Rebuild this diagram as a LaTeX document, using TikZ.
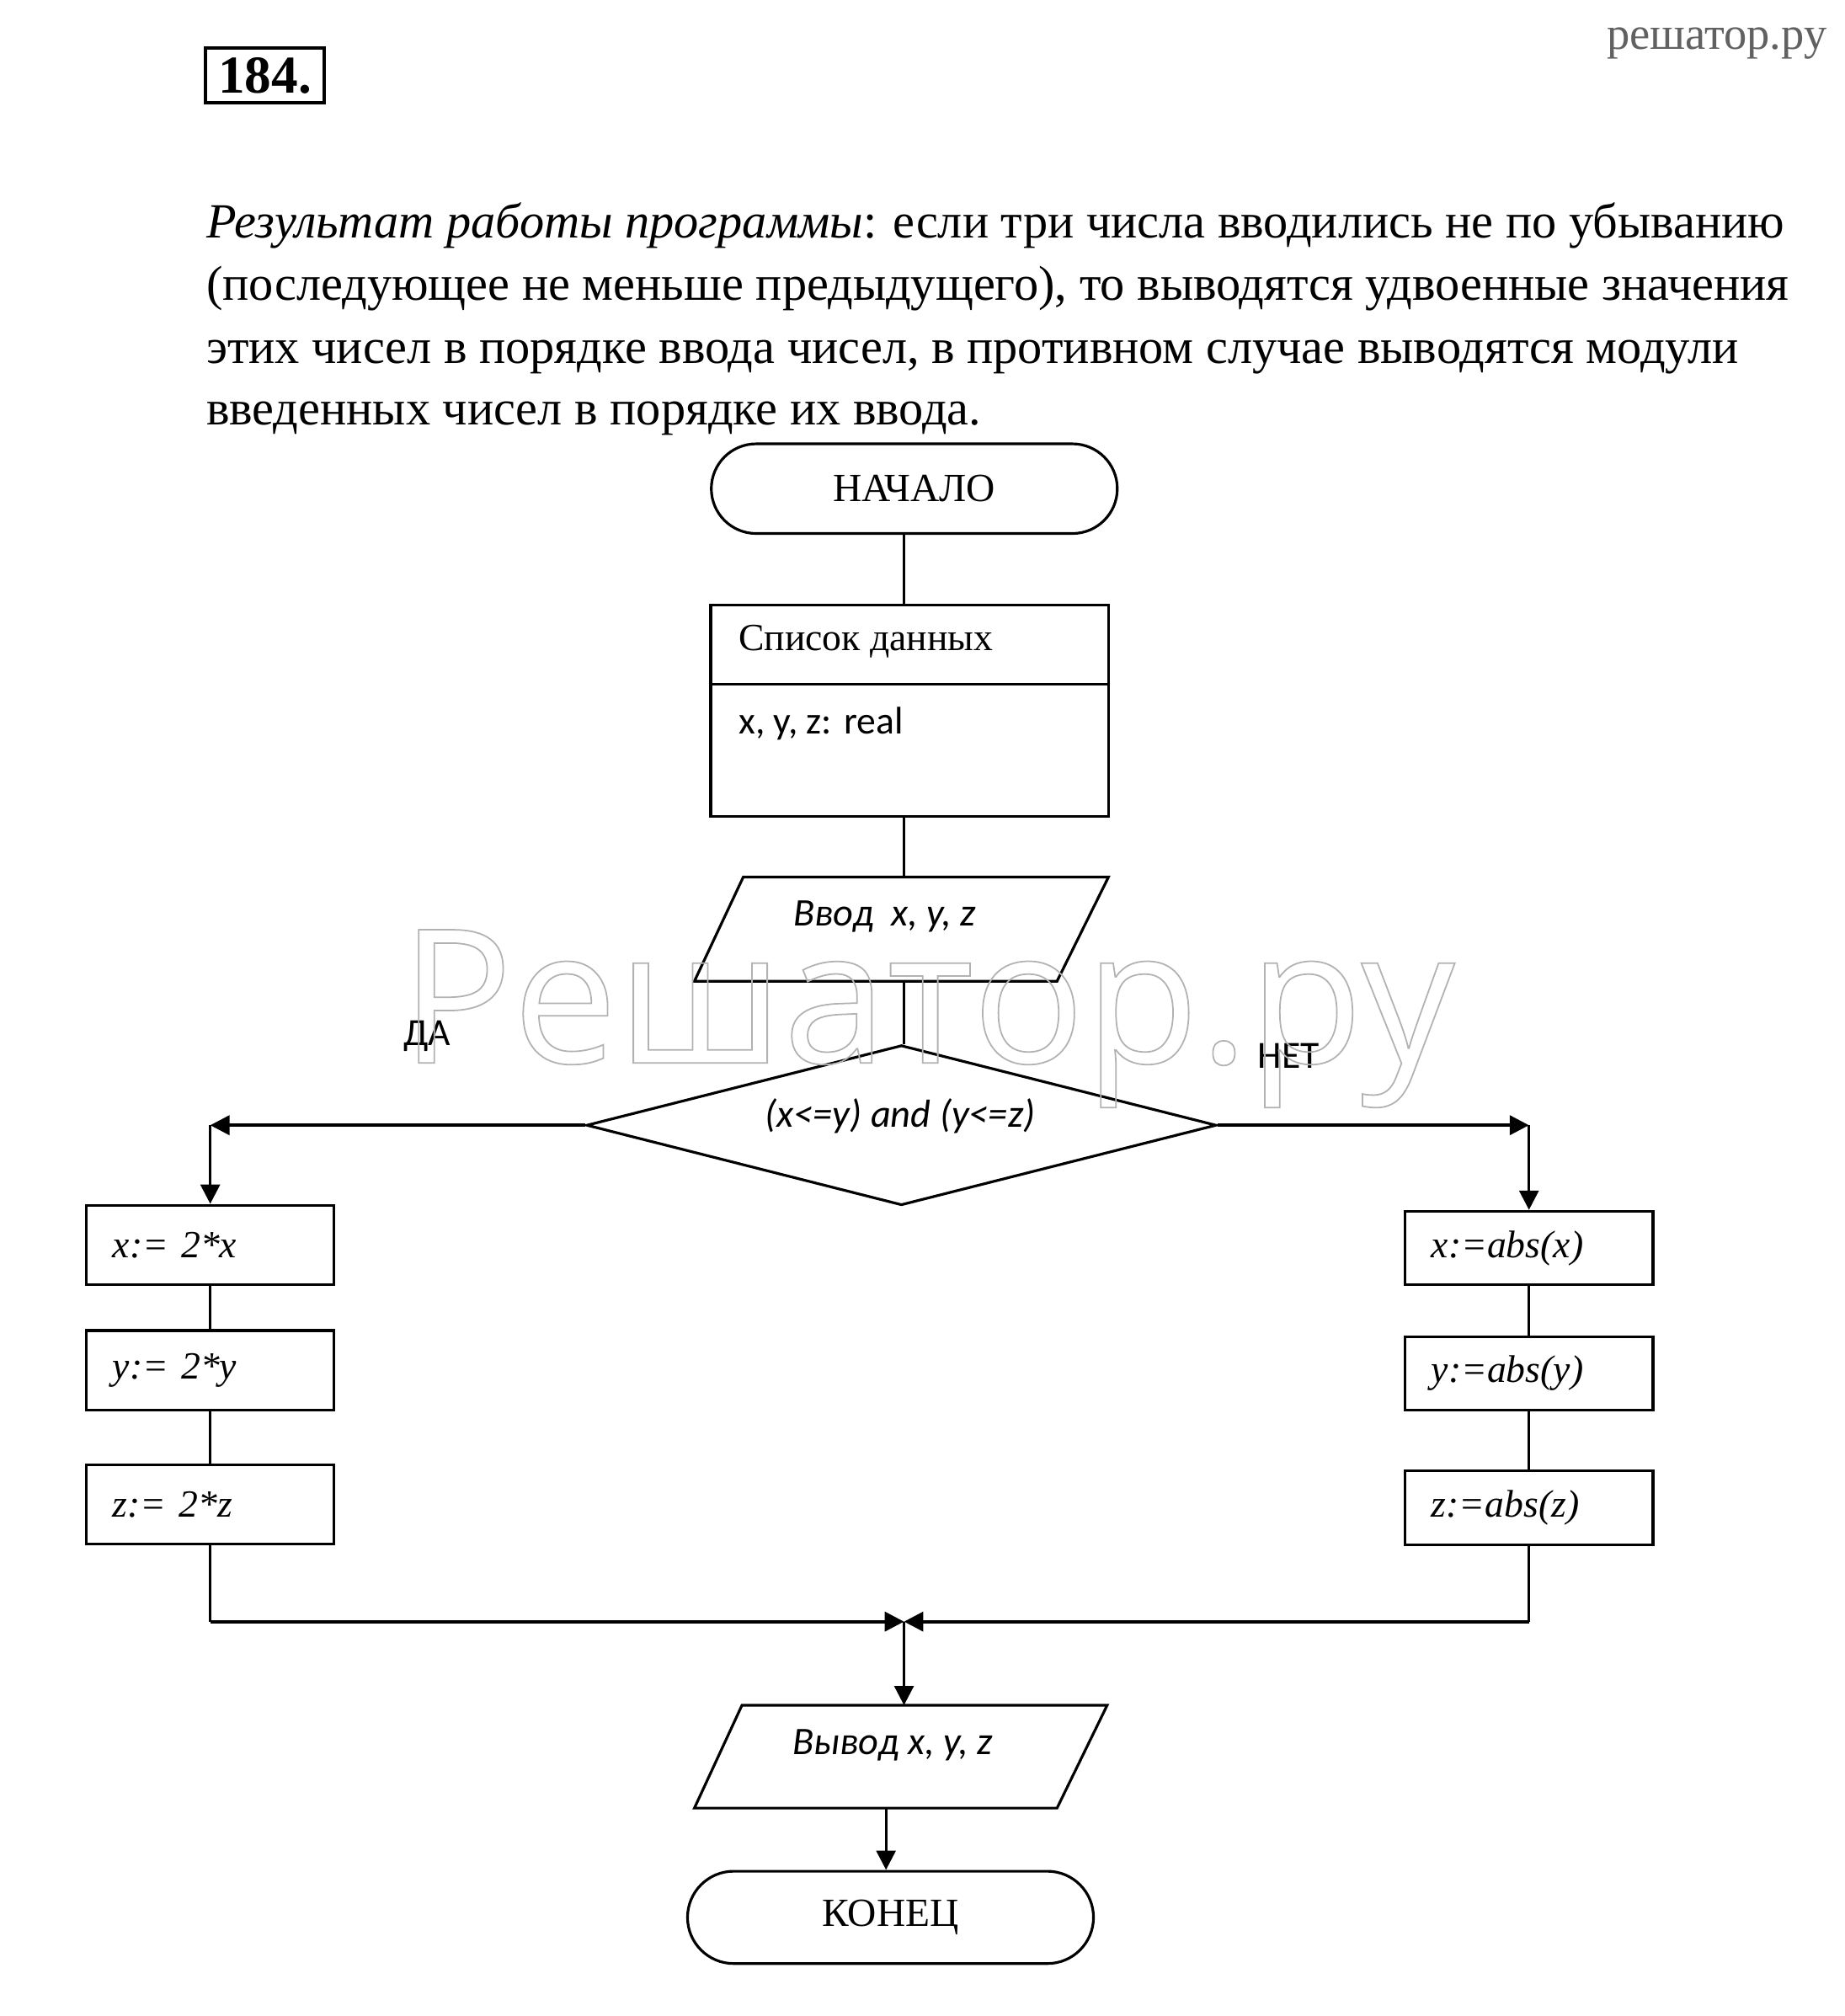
\documentclass[tikz,border=0pt]{standalone}
\usepackage{fontspec}
\setmainfont{Liberation Serif}
\newfontfamily\carl{Carlito}
\newfontfamily\osans{Open Sans}
\usetikzlibrary{arrows.meta,shapes.misc,shapes.geometric}
\newcommand\outlinetxt[1]{\special{pdf:literal direct 1 Tr 0.5 w}#1\special{pdf:literal direct 0 Tr}}
\begin{document}
\begin{tikzpicture}[x=0.015269cm,y=-0.015269cm,
  shp/.style={draw, line width=0.9pt},
  term/.style={shp, rounded rectangle, minimum width=137.2pt, inner sep=0pt, font=\fontsize{13.5}{15}\selectfont},
  opbox/.style={shp, rectangle, text width=66pt, inner xsep=8.9pt, inner ysep=0pt, align=left, font=\fontsize{13}{15}\selectfont\itshape},
  cl/.style={inner sep=0pt, font=\carl\fontsize{13}{15}\selectfont},
  cli/.style={inner sep=0pt, font=\carl\itshape\fontsize{13.2}{15}\selectfont},
  sr/.style={inner sep=0pt, font=\fontsize{13}{15}\selectfont},
  flow/.style={line width=0.9pt},
  bus/.style={line width=1.1pt},
  arr/.style={-{Triangle[length=6.5pt,width=6.5pt]}},
  para/.style={inner sep=0pt, font=\fontsize{16.6}{19}\selectfont, anchor=base west},
]
\fill[white] (0,0) rectangle (1434.3,1567.7);
\useasboundingbox (0,0) rectangle (1434.3,1567.7);

% header
\node[draw, line width=1.05pt, minimum width=40.2pt, minimum height=18.6pt, inner sep=0pt,
      font=\bfseries\fontsize{18}{20}\selectfont] (num) at (206,58.7) {184.};
\node[anchor=base east, inner sep=0pt, text=black!62, font=\fontsize{15.5}{17}\selectfont] (site) at (1421,38) {решатор.ру};

% paragraph
\node[para] (p1) at (160,185) {\textit{Результат работы программы}: если три числа вводились не по убыванию};
\node[para] (p2) at (160,233.6) {(последующее не меньше предыдущего), то выводятся удвоенные значения};
\node[para] (p3) at (160,282.3) {этих чисел в порядке ввода чисел, в противном случае выводятся модули};
\node[para] (p4) at (160,330.5) {введенных чисел в порядке их ввода.};

\coordinate (spine) at (703,0);

% start
\node[term, minimum height=30.3pt] (start) at (711,380) {НАЧАЛО};

% data list
\node[shp, minimum width=134.6pt, minimum height=71.4pt, inner sep=0pt] (data) at (707.5,552.5) {};
\coordinate (div) at (0,532);
\draw[shp] (data.west |- div) -- (data.east |- div);
\node[sr, anchor=west] (dl) at (574,499) {Список данных};
\node[cl, anchor=west] (dv) at (574,563) {x, y, z: real};

% input
\draw[shp] (578,682) -- (862,682) -- (822,763) -- (540,763) -- cycle;
\coordinate (inT) at (703,682);
\coordinate (inB) at (703,763);
\node[cli] (inp) at (688,713) {Ввод\ \ x, y, z};

% decision
\node[shp, diamond, minimum width=212.9pt, minimum height=54.1pt, inner sep=0pt] (dia) at (701,875) {};
\node[cli] (cond) at (700,868) {(x<=y) and (y<=z)};
\node[cl] (yes) at (332,806) {ДА};
\node[cl] (no) at (1002,821) {НЕТ};

% left branch
\node[opbox, minimum height=26.8pt] (L1) at (163.5,968) {x:= 2*x};
\node[opbox, minimum height=26.8pt] (L2) at (163.5,1065.5) {y:= 2*y};
\node[opbox, minimum height=26.8pt] (L3) at (163.5,1170) {z:= 2*z};
% right branch
\node[opbox, minimum height=24.9pt] (R1) at (1189,970.5) {x:=abs(x)};
\node[opbox, minimum height=24.9pt] (R2) at (1189,1068) {y:=abs(y)};
\node[opbox, minimum height=24.9pt] (R3) at (1189,1172.5) {z:=abs(z)};

\coordinate (Lc) at (163.5,875);
\coordinate (Rc) at (1189,875);
\coordinate (Lm) at (163.5,1261);
\coordinate (Rm) at (1189,1261);
\coordinate (M) at (703,1261);

% output
\draw[shp] (577,1326) -- (861,1326) -- (822,1406) -- (540,1406) -- cycle;
\coordinate (outT) at (703,1326);
\coordinate (outB) at (689,1406);
\node[cli] (outp) at (694,1357) {Вывод x, y, z};

% end
\node[term, minimum height=31.2pt] (fin) at (692.5,1491) {КОНЕЦ};

% connectors
\draw[flow] (start.south -| spine) -- (data.north -| spine);
\draw[flow] (data.south -| spine) -- (inT);
\draw[flow] (inB) -- (inB |- dia.north);
\draw[bus, arr] (dia.west) -- (Lc);
\draw[flow, arr] (Lc) -- (L1.north);
\draw[bus, arr] (dia.east) -- (Rc);
\draw[flow, arr] (Rc) -- (R1.north);
\draw[flow] (L1.south) -- (L2.north);
\draw[flow] (L2.south) -- (L3.north);
\draw[flow] (R1.south) -- (R2.north);
\draw[flow] (R2.south) -- (R3.north);
\draw[flow] (L3.south) -- (Lm);
\draw[flow] (R3.south) -- (Rm);
\draw[bus, arr] (Lm) -- (M);
\draw[bus, arr] (Rm) -- (M);
\draw[flow, arr] (M) -- (outT);
\draw[flow, arr] (outB) -- (outB |- fin.north);

% watermark
\node[anchor=base west, inner sep=0pt, text=black!30, font=\osans\fontsize{63}{63}\selectfont] (wm) at (311,826.5) {\outlinetxt{Решатор.ру}};
\end{tikzpicture}
\end{document}
